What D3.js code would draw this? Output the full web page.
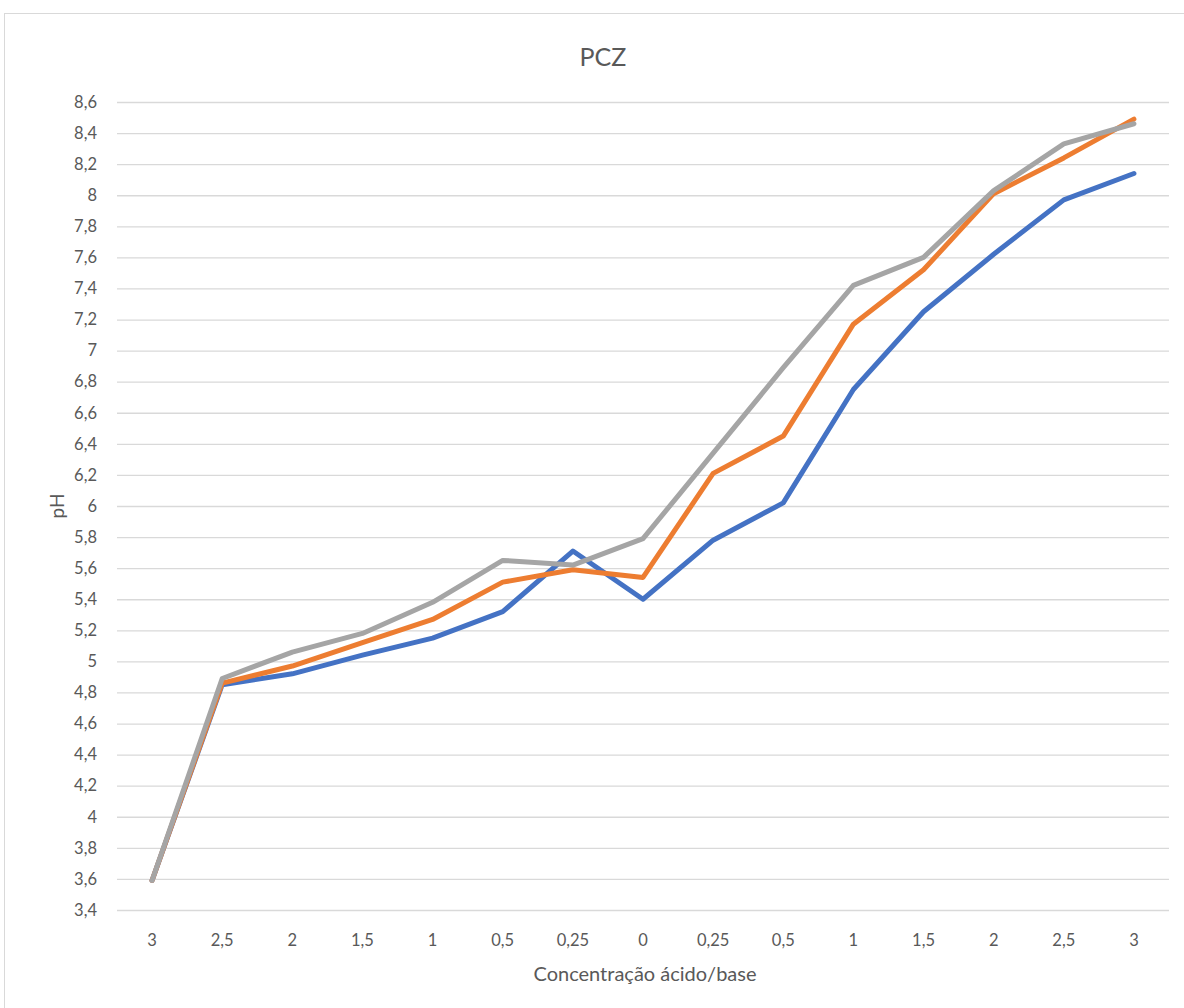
<!DOCTYPE html>
<html>
<head>
<meta charset="utf-8">
<script src="https://cdn.jsdelivr.net/npm/d3@7"></script>
<style>
  body { margin: 0; background: #fff; }
  text { font-family: Lato, "Open Sans", sans-serif; fill: #595959; }
</style>
</head>
<body>
<div id="chart"></div>
<script>
// Data
const categories = ["3", "2,5", "2", "1,5", "1", "0,5", "0,25", "0", "0,25", "0,5", "1", "1,5", "2", "2,5", "3"];
const serie1 = [3.59, 4.85, 4.92, 5.04, 5.15, 5.32, 5.71, 5.40, 5.78, 6.02, 6.75, 7.25, 7.62, 7.97, 8.14];
const serie2 = [3.59, 4.86, 4.97, 5.12, 5.27, 5.51, 5.59, 5.54, 6.21, 6.45, 7.17, 7.52, 8.01, 8.24, 8.49];
const serie3 = [3.59, 4.89, 5.06, 5.18, 5.38, 5.65, 5.62, 5.79, 6.34, 6.89, 7.42, 7.60, 8.03, 8.33, 8.46];
const yTicks = [3.4, 3.6, 3.8, 4, 4.2, 4.4, 4.6, 4.8, 5, 5.2, 5.4, 5.6, 5.8, 6, 6.2, 6.4, 6.6, 6.8, 7, 7.2, 7.4, 7.6, 7.8, 8, 8.2, 8.4, 8.6];

const series = [
  { values: serie1, color: "#4472C4" },
  { values: serie2, color: "#ED7D31" },
  { values: serie3, color: "#A5A5A5" }
];

const W = 1184, H = 1008;
const margin = { left: 117, right: 15, top: 102, bottom: 98 };
const width = W - margin.left - margin.right;
const height = H - margin.top - margin.bottom;

const svg = d3.select("#chart")
  .append("svg")
  .attr("width", W)
  .attr("height", H);

// chart frame
svg.append("rect")
  .attr("x", 4.5).attr("y", 13.5)
  .attr("width", 1200).attr("height", 1000)
  .attr("fill", "none")
  .attr("stroke", "#d9d9d9");

const g = svg.append("g")
  .attr("transform", `translate(${margin.left},${margin.top})`);

// Scales
const x = d3.scaleBand()
  .domain(d3.range(categories.length))
  .range([0, width]);

const y = d3.scaleLinear()
  .domain([3.4, 8.6])
  .range([height, 0]);

const fmt = d => String(+d.toFixed(1)).replace(".", ",");

// gridlines + y labels
const yAxis = d3.axisLeft(y)
  .tickValues(yTicks)
  .tickSize(-width)
  .tickPadding(20)
  .tickFormat(fmt);

g.append("g")
  .call(yAxis)
  .call(a => a.select(".domain").remove())
  .call(a => a.selectAll("line").attr("stroke", "#d9d9d9").attr("stroke-width", 1.3))
  .call(a => a.selectAll("text").attr("font-size", 16.5).attr("fill", "#595959")
    .attr("font-family", "Lato, 'Open Sans', sans-serif"));

// x labels
const xAxis = d3.axisBottom(x)
  .tickSize(0)
  .tickPadding(24)
  .tickFormat(i => categories[i]);

g.append("g")
  .attr("transform", `translate(0,${height})`)
  .call(xAxis)
  .call(a => a.select(".domain").remove())
  .call(a => a.selectAll("text").attr("font-size", 16.5).attr("fill", "#595959")
    .attr("font-family", "Lato, 'Open Sans', sans-serif"));

// lines
const line = d3.line()
  .x((d, i) => x(i) + x.bandwidth() / 2)
  .y(d => y(d));

g.selectAll(".serie")
  .data(series)
  .enter()
  .append("path")
    .attr("d", d => line(d.values))
    .attr("fill", "none")
    .attr("stroke", d => d.color)
    .attr("stroke-width", 5)
    .attr("stroke-linejoin", "round")
    .attr("stroke-linecap", "round");

// titles
svg.append("text")
  .attr("x", 603).attr("y", 66)
  .attr("text-anchor", "middle")
  .attr("font-size", 25)
  .text("PCZ");

svg.append("text")
  .attr("x", 645).attr("y", 981)
  .attr("text-anchor", "middle")
  .attr("font-size", 20)
  .text("Concentração ácido/base");

svg.append("text")
  .attr("transform", "translate(64,506) rotate(-90)")
  .attr("text-anchor", "middle")
  .attr("font-size", 19)
  .text("pH");
</script>
</body>
</html>
